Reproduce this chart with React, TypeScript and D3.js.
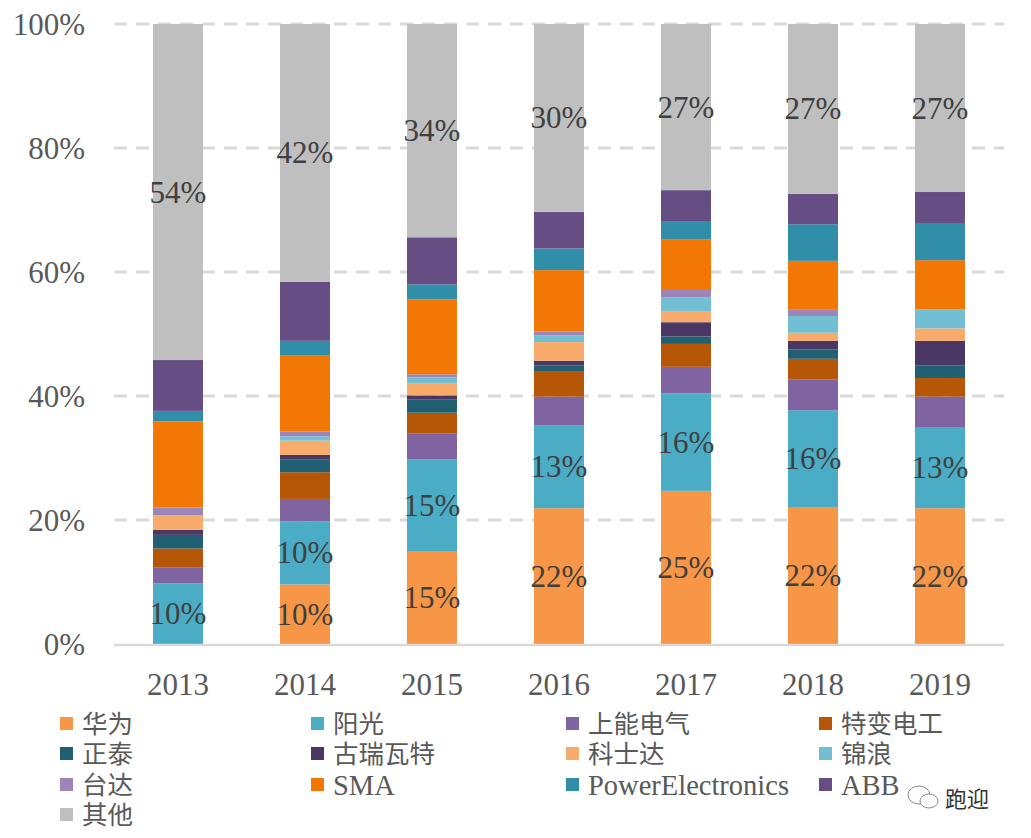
import * as d3 from "d3";
import { useEffect, useRef } from "react";

const YEARS = ["2013", "2014", "2015", "2016", "2017", "2018", "2019"];

const SERIES = [
  "华为",
  "阳光",
  "上能电气",
  "特变电工",
  "正泰",
  "古瑞瓦特",
  "科士达",
  "锦浪",
  "台达",
  "SMA",
  "PowerElectronics",
  "ABB",
  "其他",
];

const huawei = [0, 9.6, 15.0, 21.9, 24.7, 22.1, 21.9];
const sungrow = [9.8, 10.2, 14.8, 13.4, 15.7, 15.6, 13.1];
const sineng = [2.5, 3.6, 4.2, 4.6, 4.3, 5.0, 4.9];
const tbea = [3.1, 4.3, 3.3, 4.0, 3.7, 3.3, 3.0];
const chint = [2.2, 2.1, 2.1, 1.0, 1.2, 1.5, 2.0];
const growatt = [0.8, 0.7, 0.7, 0.8, 2.3, 1.4, 4.0];
const kstar = [2.4, 2.3, 1.9, 3.0, 1.7, 1.3, 2.0];
const ginlong = [0, 0.7, 1.0, 1.1, 2.3, 2.7, 3.1];
const delta = [1.2, 0.8, 0.5, 0.6, 1.2, 1.0, 0];
const sma = [13.9, 12.3, 12.1, 9.9, 8.2, 7.9, 7.9];
const powerElectronics = [1.7, 2.3, 2.4, 3.5, 2.8, 5.9, 6.0];
const abb = [8.2, 9.5, 7.6, 5.9, 5.1, 4.9, 5.0];
const others = [54.2, 41.6, 34.4, 30.3, 26.8, 27.4, 27.1];

const VALUES = [
  huawei,
  sungrow,
  sineng,
  tbea,
  chint,
  growatt,
  kstar,
  ginlong,
  delta,
  sma,
  powerElectronics,
  abb,
  others,
];

const Y_TICKS = [0, 20, 40, 60, 80, 100];

// series that carry a value label inside the bar
const LABELLED = ["华为", "阳光", "其他"];

const COLORS = [
  "#F79646",
  "#4BACC6",
  "#8064A2",
  "#B65708",
  "#215F73",
  "#4B3764",
  "#F9AB6C",
  "#72BED2",
  "#9C85B8",
  "#F27704",
  "#318EA8",
  "#664E84",
  "#BFBFBF",
];

const WIDTH = 1031;
const HEIGHT = 838;
const FONT = "'Liberation Serif', 'DejaVu Serif', serif";
const CJK = "'Liberation Serif', 'Noto Sans CJK SC', serif";

type Row = { year: string } & Record<string, number | string>;

export default function App() {
  const ref = useRef<SVGSVGElement>(null);

  useEffect(() => {
    if (!ref.current) return;
    const svg = d3.select(ref.current);
    svg.selectAll("*").remove();

    const rows: Row[] = YEARS.map((year, i) => {
      const r: Row = { year };
      SERIES.forEach((s, k) => (r[s] = VALUES[k][i]));
      return r;
    });

    const x = d3.scalePoint<string>().domain(YEARS).range([114.5, 1003.5]).padding(0.5);
    const y = d3.scaleLinear().domain([0, 100]).range([644, 24]);
    const barW = 50;

    // grid
    svg
      .append("g")
      .selectAll("line")
      .data(Y_TICKS.filter((t) => t > 0))
      .join("line")
      .attr("x1", 114)
      .attr("x2", 1004)
      .attr("y1", (d) => y(d))
      .attr("y2", (d) => y(d))
      .attr("stroke", "#D9D9D9")
      .attr("stroke-width", 3)
      .attr("stroke-dasharray", "13,9");

    const stack = d3.stack<Row>().keys(SERIES).value((d, k) => d[k] as number);
    const layers = stack(rows);

    const g = svg.append("g");
    layers.forEach((layer, k) => {
      g.append("g")
        .selectAll("rect")
        .data(layer)
        .join("rect")
        .attr("x", (d) => (x(d.data.year) as number) - barW / 2)
        .attr("width", barW)
        .attr("y", (d) => y(d[1]))
        .attr("height", (d) => Math.max(0, y(d[0]) - y(d[1])))
        .attr("fill", COLORS[k]);
    });

    // baseline
    svg
      .append("line")
      .attr("x1", 114)
      .attr("x2", 1004)
      .attr("y1", y(0) + 1)
      .attr("y2", y(0) + 1)
      .attr("stroke", "#D9D9D9")
      .attr("stroke-width", 2.5);

    // value labels
    layers
      .filter((l) => LABELLED.includes(l.key))
      .forEach((layer) => {
        svg
          .append("g")
          .selectAll("text")
          .data(layer.filter((d) => d[1] - d[0] > 0))
          .join("text")
          .attr("x", (d) => x(d.data.year) as number)
          .attr("y", (d) => y((d[0] + d[1]) / 2))
          .attr("text-anchor", "middle")
          .attr("dominant-baseline", "central")
          .style("font-family", FONT)
          .style("font-size", "31px")
          .style("fill", "#404040")
          .text((d) => `${Math.round(d[1] - d[0])}%`);
      });

    // y ticks
    svg
      .append("g")
      .selectAll("text")
      .data(Y_TICKS)
      .join("text")
      .attr("x", 85)
      .attr("y", (d) => y(d))
      .attr("text-anchor", "end")
      .attr("dominant-baseline", "central")
      .style("font-family", FONT)
      .style("font-size", "31px")
      .style("fill", "#595959")
      .text((d) => `${d}%`);

    // x ticks
    svg
      .append("g")
      .selectAll("text")
      .data(YEARS)
      .join("text")
      .attr("x", (d) => x(d) as number)
      .attr("y", 684)
      .attr("text-anchor", "middle")
      .attr("dominant-baseline", "central")
      .style("font-family", FONT)
      .style("font-size", "31px")
      .style("fill", "#595959")
      .text((d) => d);

    // legend
    const colX = [60, 311, 566, 819];
    const rowY = [724, 754, 785, 815];
    const leg = svg
      .append("g")
      .selectAll("g")
      .data(SERIES)
      .join("g")
      .attr("transform", (_, i) => `translate(${colX[i % 4]},${rowY[Math.floor(i / 4)]})`);
    leg
      .append("rect")
      .attr("x", 0)
      .attr("y", -7)
      .attr("width", 13)
      .attr("height", 13)
      .attr("fill", (_, i) => COLORS[i]);
    leg
      .append("text")
      .attr("x", 22)
      .attr("y", 0)
      .attr("dominant-baseline", "central")
      .style("font-family", CJK)
      .style("font-size", (d) => (/[A-Za-z]/.test(d) ? "28.5px" : "25.5px"))
      .style("fill", "#595959")
      .text((d) => d);

    // watermark
    const wm = svg.append("g").attr("transform", "translate(905,795)");
    wm.append("ellipse")
      .attr("cx", 14)
      .attr("cy", 0)
      .attr("rx", 11)
      .attr("ry", 9)
      .attr("fill", "none")
      .attr("stroke", "#888")
      .attr("stroke-width", 1);
    wm.append("ellipse")
      .attr("cx", 24)
      .attr("cy", 6)
      .attr("rx", 9)
      .attr("ry", 7)
      .attr("fill", "#fff")
      .attr("stroke", "#888")
      .attr("stroke-width", 1);
    wm.append("text")
      .attr("x", 40)
      .attr("y", 2)
      .attr("dominant-baseline", "central")
      .style("font-family", "'Noto Sans CJK SC', sans-serif")
      .style("font-size", "22px")
      .style("fill", "#333")
      .text("跑迎");
  }, []);

  return (
    <svg
      ref={ref}
      width={WIDTH}
      height={HEIGHT}
      style={{ position: "absolute", left: 0, top: 0, background: "#fff" }}
    />
  );
}
